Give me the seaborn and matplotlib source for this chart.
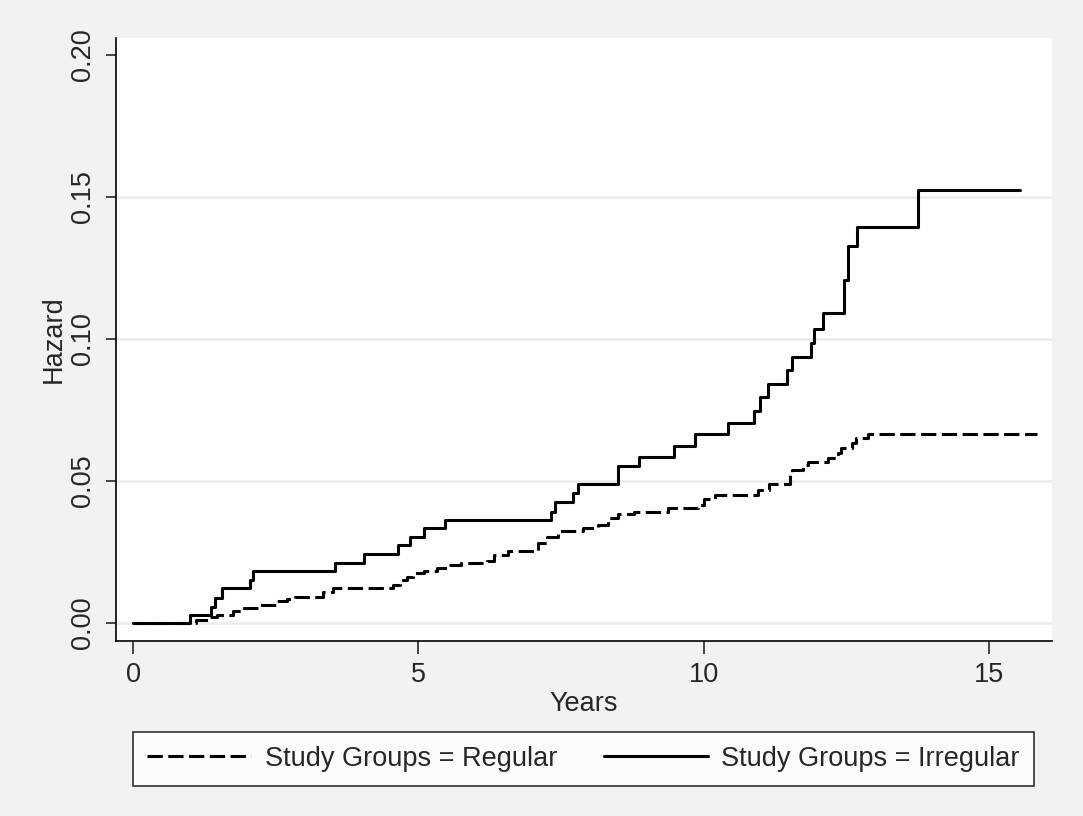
import matplotlib
matplotlib.use("Agg")
import matplotlib.pyplot as plt
import pandas as pd
import seaborn as sns

# step estimates (years, cumulative hazard)
irregular_years = [0, 1.0, 1.37, 1.44, 1.56, 2.05, 2.11, 3.54, 4.05, 4.64, 4.86, 5.09, 5.46,
                   7.33, 7.39, 7.70, 7.79, 8.49, 8.86, 9.47, 9.84, 10.42, 10.88, 10.98, 11.12,
                   11.46, 11.54, 11.88, 11.92, 12.09, 12.46, 12.53, 12.68, 13.75, 15.54]
irregular_hazard = [0, 0.0028, 0.0058, 0.009, 0.0123, 0.0153, 0.0183, 0.0213, 0.0243, 0.0274,
                    0.0304, 0.0336, 0.0363, 0.0392, 0.0426, 0.0457, 0.0489, 0.0552, 0.0586,
                    0.0624, 0.0664, 0.0704, 0.0746, 0.0796, 0.0842, 0.089, 0.0937, 0.0986,
                    0.1035, 0.109, 0.1208, 0.1327, 0.1394, 0.1525, 0.1525]

regular_years = [0, 1.1, 1.35, 1.47, 1.75, 1.91, 2.23, 2.53, 2.7, 2.84, 3.33, 3.5, 4.56, 4.68,
                 4.8, 4.9, 5.09, 5.33, 5.5, 5.74, 6.2, 6.32, 6.56, 7.09, 7.26, 7.44, 7.88, 8.14,
                 8.32, 8.49, 8.77, 9.37, 9.9, 10.0, 10.2, 10.95, 11.14, 11.5, 11.55, 11.74,
                 11.82, 12.18, 12.35, 12.4, 12.6, 12.66, 12.88, 15.84]
regular_hazard = [0, 0.001, 0.002, 0.0028, 0.0042, 0.0053, 0.0065, 0.0076, 0.0085, 0.0091,
                  0.0108, 0.0125, 0.0134, 0.015, 0.0163, 0.0176, 0.0183, 0.0195, 0.0204, 0.021,
                  0.0218, 0.024, 0.0255, 0.0282, 0.0303, 0.0324, 0.0334, 0.0345, 0.037, 0.0384,
                  0.0392, 0.0405, 0.0415, 0.0437, 0.045, 0.0468, 0.049, 0.052, 0.054, 0.0556,
                  0.0567, 0.058, 0.06, 0.0616, 0.0634, 0.065, 0.0664, 0.0664]

labels = ["Study Groups = Regular", "Study Groups = Irregular"]
x_ticks = [0, 5, 10, 15]
y_ticks = [0.0, 0.05, 0.10, 0.15, 0.20]

sns.set_style("white")
plt.rcParams["font.family"] = ["Liberation Sans", "DejaVu Sans"]
FS = 19.5

df_reg = pd.DataFrame({"Years": regular_years, "Hazard": regular_hazard})
df_irr = pd.DataFrame({"Years": irregular_years, "Hazard": irregular_hazard})

fig = plt.figure(figsize=(10.83, 8.16), dpi=100, facecolor="#f2f2f2")
ax = fig.add_axes([0.107, 0.2145, 0.8645, 0.739])
ax.set_facecolor("white")

for y in [0.0, 0.05, 0.10, 0.15]:
    ax.axhline(y, color="#ececec", lw=1.8, zorder=0)

sns.lineplot(data=df_reg, x="Years", y="Hazard", ax=ax, color="black", lw=2.2,
             drawstyle="steps-post", label=labels[0], legend=False)
sns.lineplot(data=df_irr, x="Years", y="Hazard", ax=ax, color="black", lw=2.2,
             drawstyle="steps-post", label=labels[1], legend=False)
ax.lines[-2].set_dashes((5, 1.8))

ax.set_xlim(-0.3, 16.1)
ax.set_ylim(-0.0063, 0.206)
ax.set_xticks(x_ticks)
ax.set_xticklabels([str(t) for t in x_ticks])
ax.set_yticks(y_ticks)
ax.set_yticklabels([f"{t:.2f}" for t in y_ticks], rotation=90, va="center")

for side in ["top", "right"]:
    ax.spines[side].set_visible(False)
for side in ["left", "bottom"]:
    ax.spines[side].set_color("black")
    ax.spines[side].set_linewidth(1.2)

ax.tick_params(axis="x", direction="out", length=9, width=1.2, labelsize=FS, pad=6, bottom=True)
ax.tick_params(axis="y", direction="out", length=7.5, width=1.2, labelsize=FS, pad=6.5, left=True)
ax.set_xlabel("Years", fontsize=FS, labelpad=2)
ax.set_ylabel("Hazard", fontsize=FS, labelpad=3)

handles = [ax.lines[-2], ax.lines[-1]]
leg = fig.legend(handles, labels, loc="lower left",
                 bbox_to_anchor=(0.1228, 0.0368, 0.832, 0.0662), mode="expand", ncol=2,
                 fontsize=FS, frameon=True, fancybox=False, handlelength=3.85,
                 handletextpad=0.5, borderaxespad=0, borderpad=0.52)
leg.get_frame().set_edgecolor("black")
leg.get_frame().set_linewidth(1.2)
leg.get_frame().set_facecolor("white")

plt.savefig("out.png", dpi=100, facecolor=fig.get_facecolor())
